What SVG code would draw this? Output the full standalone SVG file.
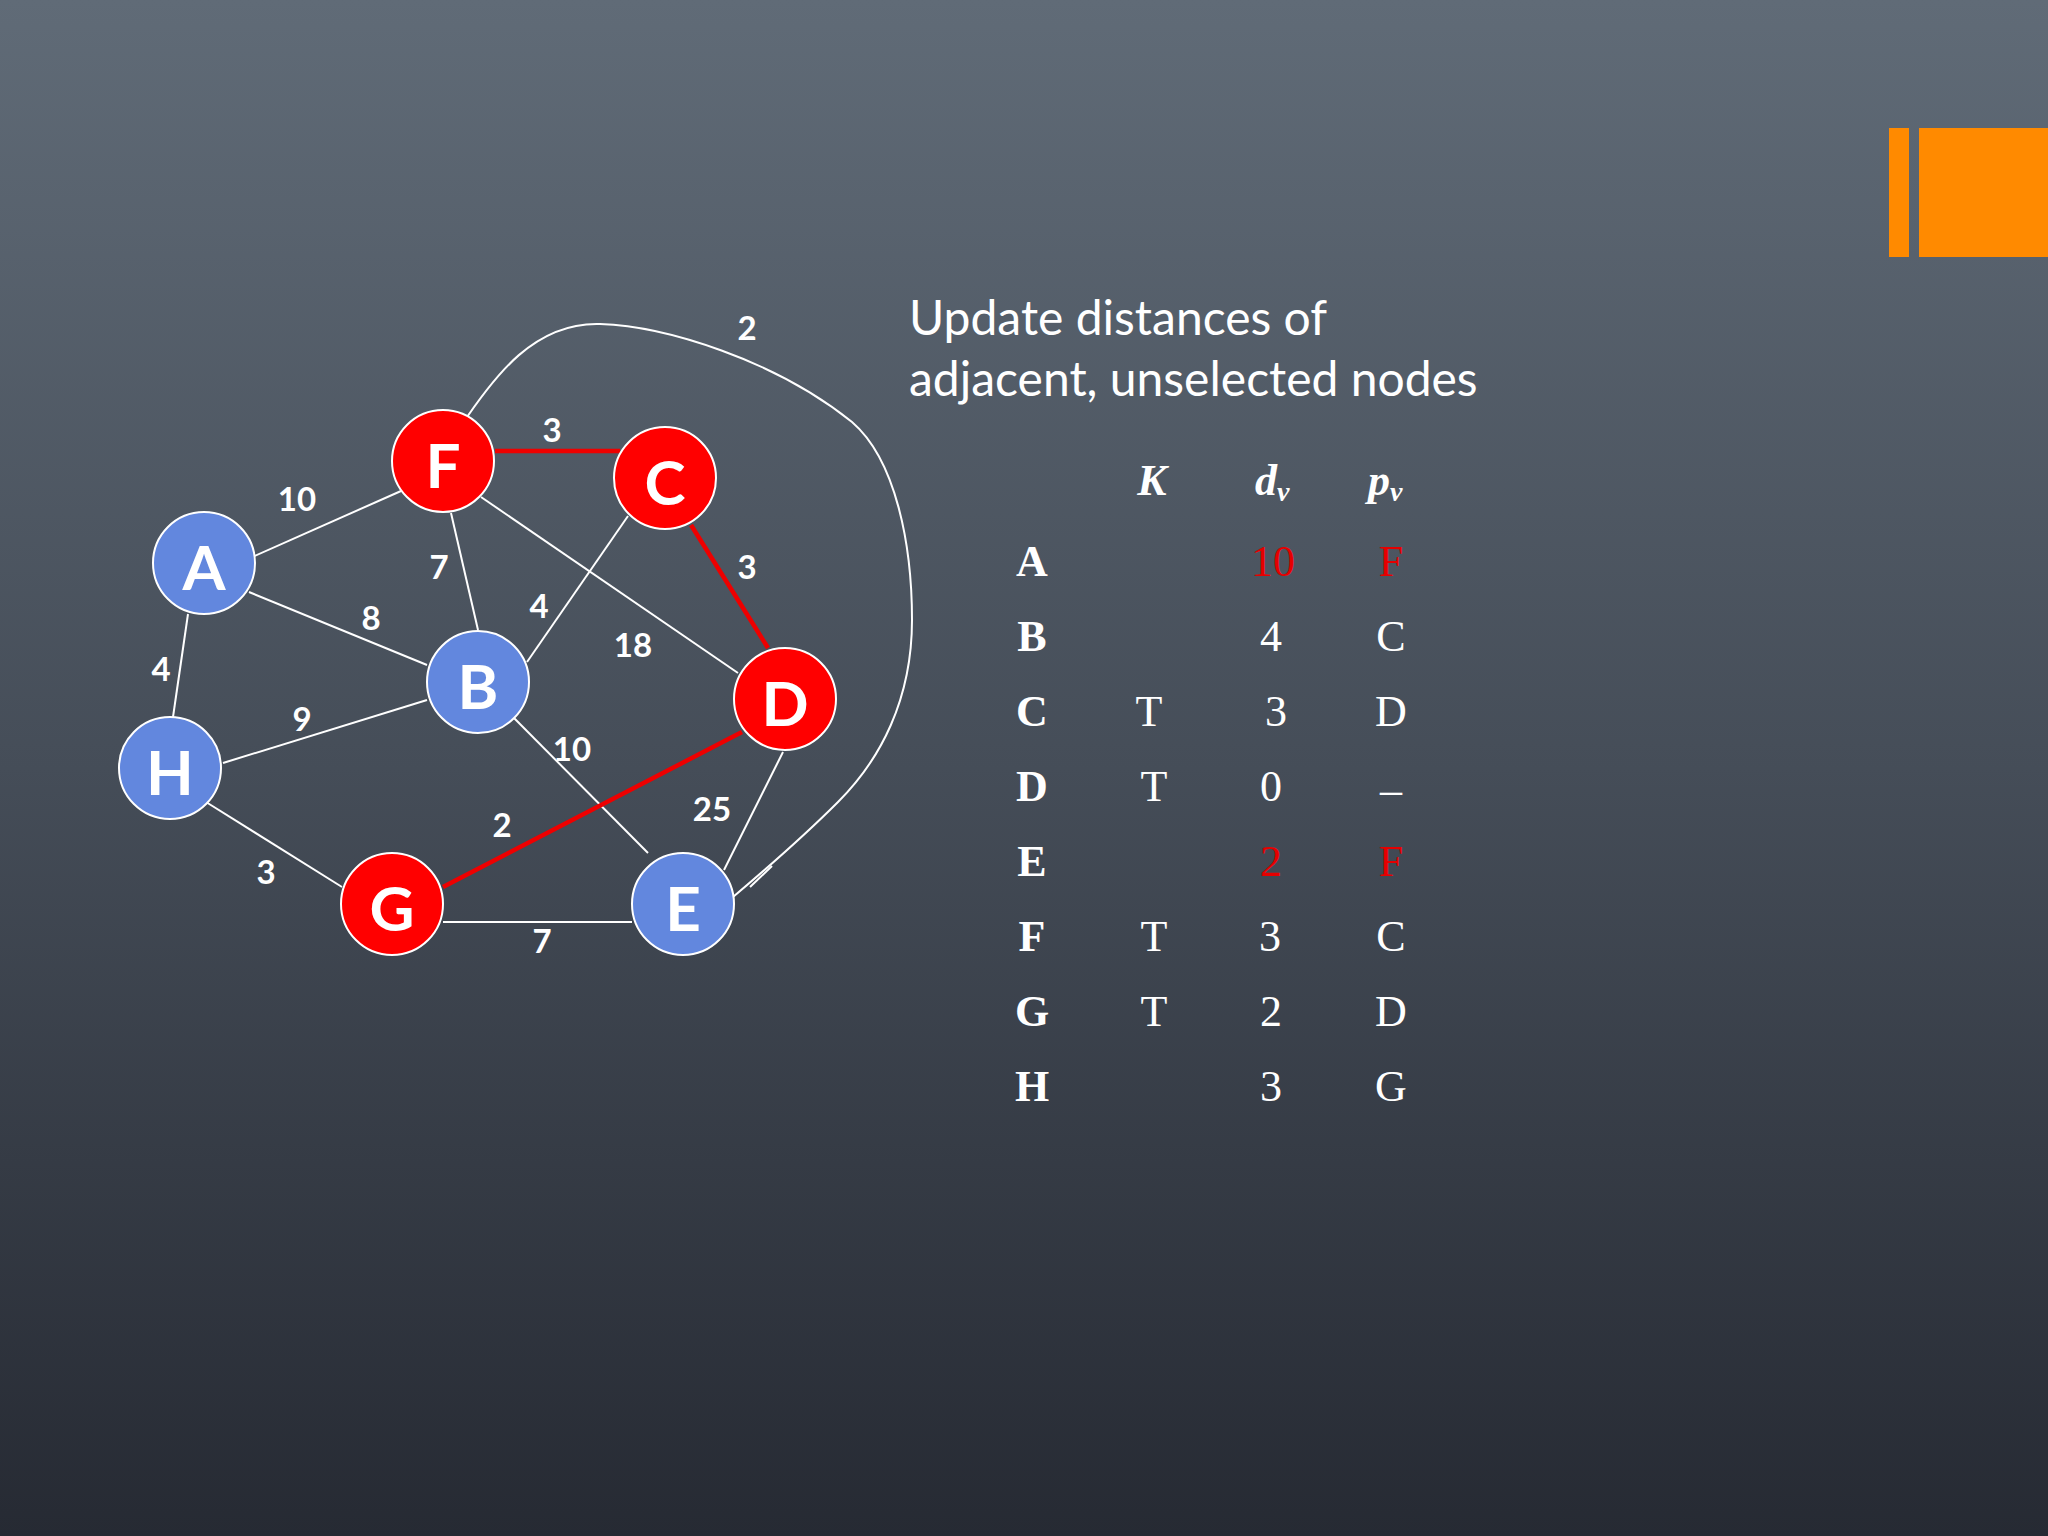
<svg xmlns="http://www.w3.org/2000/svg" width="2048" height="1536" viewBox="0 0 2048 1536">
<defs>
<linearGradient id="bg" x1="0" y1="0" x2="0" y2="1">
<stop offset="0" stop-color="#606b77"/>
<stop offset="0.5" stop-color="#454d58"/>
<stop offset="1" stop-color="#262a33"/>
</linearGradient>
<style>
.e{stroke:#ffffff;stroke-width:2;fill:none}
.r{stroke:#ee0000;stroke-width:4.5;fill:none}
.nr{fill:#ff0000;stroke:#ffffff;stroke-width:2}
.nb{fill:#6287de;stroke:#ffffff;stroke-width:2}
.nl{font-family:Lato,"Open Sans",sans-serif;font-weight:bold;font-size:62px;fill:#ffffff;text-anchor:middle}
.w{font-family:Lato,"Open Sans",sans-serif;font-weight:bold;font-size:33px;fill:#ffffff;text-anchor:middle}
.t{font-family:Lato,"Open Sans",sans-serif;font-size:48px;fill:#ffffff}
.tb{font-family:"Liberation Serif",serif;font-size:44px;fill:#ffffff;text-anchor:middle}
.b{font-weight:bold}
.red{fill:#e60000}
.hd{font-family:"Liberation Serif",serif;font-size:44px;font-style:italic;font-weight:bold;fill:#ffffff}
</style>
</defs>
<rect x="0" y="0" width="2048" height="1536" fill="url(#bg)"/>
<rect x="1889" y="128" width="20" height="129" fill="#ff8a00"/>
<rect x="1919" y="128" width="129" height="129" fill="#ff8a00"/>

<g id="connectors">
<path class="e" d="M461 426 C495 375 535 322 600 324 C665 326 775 360 852 422 C896 460 912 545 912 620 C912 700 880 760 838 802 C800 840 765 870 733 897"/>
<line class="e" x1="750" y1="887" x2="772" y2="866"/>
<line class="e" x1="250" y1="558" x2="401" y2="491"/>
<line class="e" x1="249" y1="592" x2="427" y2="665"/>
<line class="e" x1="188" y1="614" x2="173" y2="717"/>
<line class="e" x1="223" y1="763" x2="427" y2="700"/>
<line class="e" x1="206" y1="802" x2="342" y2="887"/>
<line class="e" x1="451" y1="513" x2="478" y2="630"/>
<line class="e" x1="481" y1="497" x2="738" y2="673"/>
<line class="e" x1="628" y1="516" x2="527" y2="662"/>
<line class="e" x1="513" y1="717" x2="648" y2="853"/>
<line class="e" x1="443" y1="922" x2="632" y2="922"/>
<line class="e" x1="783" y1="752" x2="724" y2="870"/>
<line class="r" x1="495" y1="451" x2="620" y2="451"/>
<line class="r" x1="691" y1="525" x2="768" y2="648"/>
<line class="r" x1="443" y1="887" x2="742" y2="732"/>
</g>

<g id="edge-labels">
<text class="w" x="747" y="340">2</text>
<text class="w" x="552" y="442">3</text>
<text class="w" x="297" y="511">10</text>
<text class="w" x="439" y="579">7</text>
<text class="w" x="371" y="630">8</text>
<text class="w" x="539" y="618">4</text>
<text class="w" x="633" y="657">18</text>
<text class="w" x="747" y="579">3</text>
<text class="w" x="161" y="681">4</text>
<text class="w" x="302" y="731">9</text>
<text class="w" x="572" y="761">10</text>
<text class="w" x="502" y="837">2</text>
<text class="w" x="712" y="821">25</text>
<text class="w" x="266" y="884">3</text>
<text class="w" x="542" y="953">7</text>
</g>

<g id="node-F"><circle class="nr" cx="443" cy="461" r="51"/><text class="nl" x="443" y="488">F</text></g>
<g id="node-C"><circle class="nr" cx="665" cy="478" r="51"/><text class="nl" x="665" y="505">C</text></g>
<g id="node-A"><circle class="nb" cx="204" cy="563" r="51"/><text class="nl" x="204" y="590">A</text></g>
<g id="node-B"><circle class="nb" cx="478" cy="682" r="51"/><text class="nl" x="478" y="709">B</text></g>
<g id="node-D"><circle class="nr" cx="785" cy="699" r="51"/><text class="nl" x="785" y="726">D</text></g>
<g id="node-H"><circle class="nb" cx="170" cy="768" r="51"/><text class="nl" x="170" y="795">H</text></g>
<g id="node-G"><circle class="nr" cx="392" cy="904" r="51"/><text class="nl" x="392" y="931">G</text></g>
<g id="node-E"><circle class="nb" cx="683" cy="904" r="51"/><text class="nl" x="683" y="931">E</text></g>

<g id="title">
<text class="t" x="909" y="335">Update distances of</text>
<text class="t" x="909" y="396">adjacent, unselected nodes</text>
</g>

<g id="table">
<text class="hd" x="1152" y="495" text-anchor="middle">K</text>
<text class="hd" x="1255" y="495">d<tspan font-size="28" dy="6">v</tspan></text>
<text class="hd" x="1368" y="495">p<tspan font-size="28" dy="6">v</tspan></text>

<text class="tb b" x="1032" y="576">A</text>
<text class="tb b" x="1032" y="651">B</text>
<text class="tb b" x="1032" y="726">C</text>
<text class="tb b" x="1032" y="801">D</text>
<text class="tb b" x="1032" y="876">E</text>
<text class="tb b" x="1032" y="951">F</text>
<text class="tb b" x="1032" y="1026">G</text>
<text class="tb b" x="1032" y="1101">H</text>

<text class="tb" x="1149" y="726">T</text>
<text class="tb" x="1154" y="801">T</text>
<text class="tb" x="1154" y="951">T</text>
<text class="tb" x="1154" y="1026">T</text>

<text class="tb red" x="1273" y="576">10</text>
<text class="tb" x="1271" y="651">4</text>
<text class="tb" x="1276" y="726">3</text>
<text class="tb" x="1271" y="801">0</text>
<text class="tb red" x="1271" y="876">2</text>
<text class="tb" x="1270" y="951">3</text>
<text class="tb" x="1271" y="1026">2</text>
<text class="tb" x="1271" y="1101">3</text>

<text class="tb red" x="1391" y="576">F</text>
<text class="tb" x="1391" y="651">C</text>
<text class="tb" x="1391" y="726">D</text>
<text class="tb" x="1391" y="804">–</text>
<text class="tb red" x="1391" y="876">F</text>
<text class="tb" x="1391" y="951">C</text>
<text class="tb" x="1391" y="1026">D</text>
<text class="tb" x="1391" y="1101">G</text>
</g>
</svg>
